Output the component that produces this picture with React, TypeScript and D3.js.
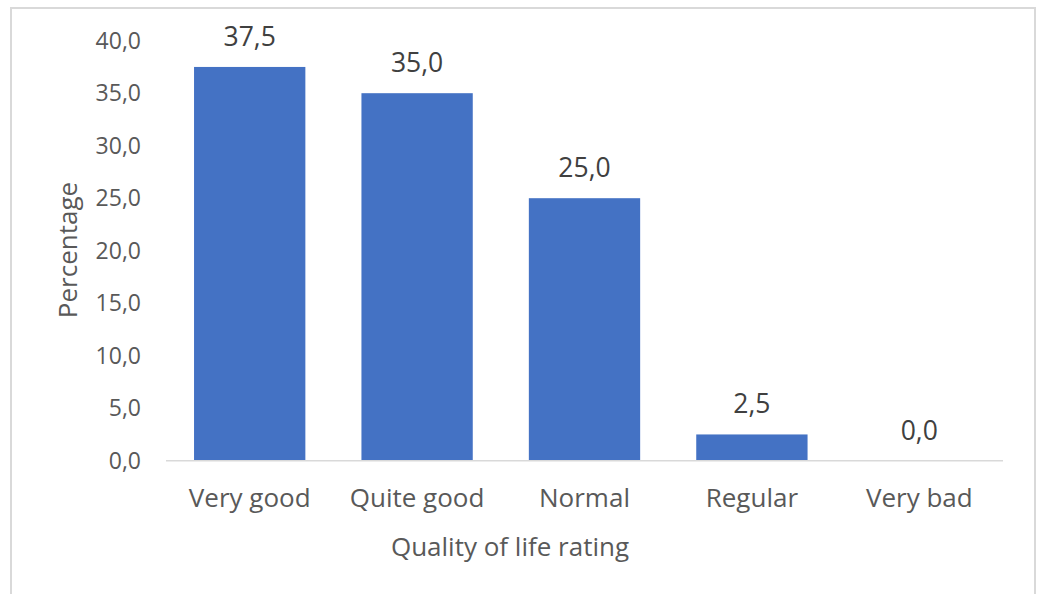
import React from "react";
import * as d3 from "d3";

const categories = ["Very good", "Quite good", "Normal", "Regular", "Very bad"];
const values = [37.5, 35.0, 25.0, 2.5, 0.0];
const yTicks = [0, 5, 10, 15, 20, 25, 30, 35, 40];

const W = 1038;
const H = 594;
const FONT = "'Open Sans', sans-serif";

export default function App() {
  const x = d3.scaleBand<string>().domain(categories).range([166, 1003]).paddingInner(0.335).paddingOuter(0.1675);
  const y = d3.scaleLinear().domain([0, 40]).range([460.7, 40.7]);
  const fmt = (v: number) => v.toFixed(1).replace(".", ",");
  return (
    <svg width={W} height={H} style={{ position: "absolute", left: 0, top: 0 }}>
      <rect x={0} y={0} width={W} height={H} fill="#fff" />
      <rect x={11} y={8} width={1024} height={600} fill="#fff" stroke="#d9d9d9" strokeWidth={2} />
      {yTicks.map((t) => (
        <text key={t} x={141} y={y(t)} dy="0.35em" textAnchor="end" fontFamily={FONT} fontSize={23} fill="#595959">
          {fmt(t)}
        </text>
      ))}
      {categories.map((c, i) => (
        <rect key={c} x={x(c)!} y={y(values[i])} width={x.bandwidth()} height={y(0) - y(values[i])} fill="#4472c4" />
      ))}
      <line x1={166} x2={1003} y1={y(0)} y2={y(0)} stroke="#d9d9d9" strokeWidth={1.5} />
      {categories.map((c, i) => (
        <text key={c + "l"} x={x(c)! + x.bandwidth() / 2} y={y(values[i]) - 21} textAnchor="middle" fontFamily={FONT} fontSize={26.5} fill="#404040">
          {fmt(values[i])}
        </text>
      ))}
      {categories.map((c) => (
        <text key={c + "t"} x={x(c)! + x.bandwidth() / 2} y={507} textAnchor="middle" fontFamily={FONT} fontSize={26} fill="#595959">
          {c}
        </text>
      ))}
      <text x={510} y={556} textAnchor="middle" fontFamily={FONT} fontSize={26} fill="#595959">
        Quality of life rating
      </text>
      <text transform={`translate(77,250) rotate(-90)`} textAnchor="middle" fontFamily={FONT} fontSize={26} fill="#595959">
        Percentage
      </text>
    </svg>
  );
}
